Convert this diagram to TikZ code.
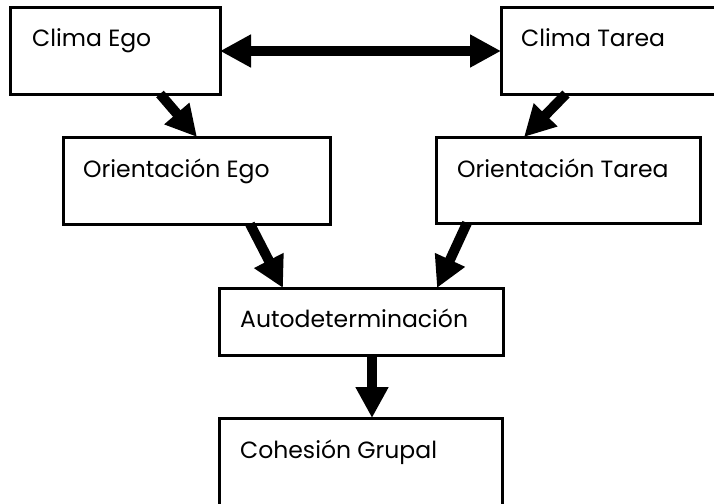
\documentclass[tikz,border=0pt]{standalone}
\usepackage{fontspec}
\setmainfont{Poppins}
\usetikzlibrary{arrows.meta}
\begin{document}
\begin{tikzpicture}[x=1pt,y=-1pt,
  box/.style={draw=black, line width=3pt, rectangle, inner sep=0pt, outer sep=0pt},
  lbl/.style={anchor=base west, inner sep=0pt, font=\fontsize{23.5}{28}\selectfont},
  bigarrow/.style={line width=10pt, -{Triangle[length=31pt,width=31pt]}},
  bigdouble/.style={line width=10pt, {Triangle[length=31pt,width=31pt]}-{Triangle[length=31pt,width=31pt]}}
]
\useasboundingbox (0,0) rectangle (714,503);
\fill[white] (0,0) rectangle (714,503);
% boxes
\node[box, minimum width=210pt, minimum height=86pt] (ce) at (115,51) {};
\node[box, minimum width=217pt, minimum height=86pt] (ct) at (609.5,51) {};
\node[box, minimum width=267pt, minimum height=87pt] (oe) at (196.5,180.5) {};
\node[box, minimum width=264pt, minimum height=86pt] (ot) at (568,180) {};
\node[box, minimum width=284pt, minimum height=67pt] (ad) at (361,321.5) {};
\node[box, minimum width=283pt, minimum height=92pt] (cg) at (360.5,464) {};
% labels
\node[lbl] (tce) at (32,47) {Clima Ego};
\node[lbl] (tct) at (521,47) {Clima Tarea};
\node[lbl] (toe) at (83,177) {Orientación Ego};
\node[lbl] (tot) at (457,177) {Orientación Tarea};
\node[lbl] (tad) at (240,327) {Autodeterminación};
\node[lbl] (tcg) at (240,458) {Cohesión Grupal};
% arrows
\draw[bigdouble] (ce.east) -- (ct.west);
\draw[bigarrow] ([xshift=150pt]ce.south west) -- ([xshift=134pt]oe.north west);
\draw[bigarrow] ([xshift=65pt]ct.south west) -- ([xshift=88pt]ot.north west);
\draw[bigarrow] ([xshift=187pt]oe.south west) -- ([xshift=64pt]ad.north west);
\draw[bigarrow] ([xshift=31pt]ot.south west) -- ([xshift=218pt]ad.north west);
\draw[bigarrow] ([xshift=11pt]ad.south) -- ([xshift=11.5pt]cg.north);
\end{tikzpicture}
\end{document}
